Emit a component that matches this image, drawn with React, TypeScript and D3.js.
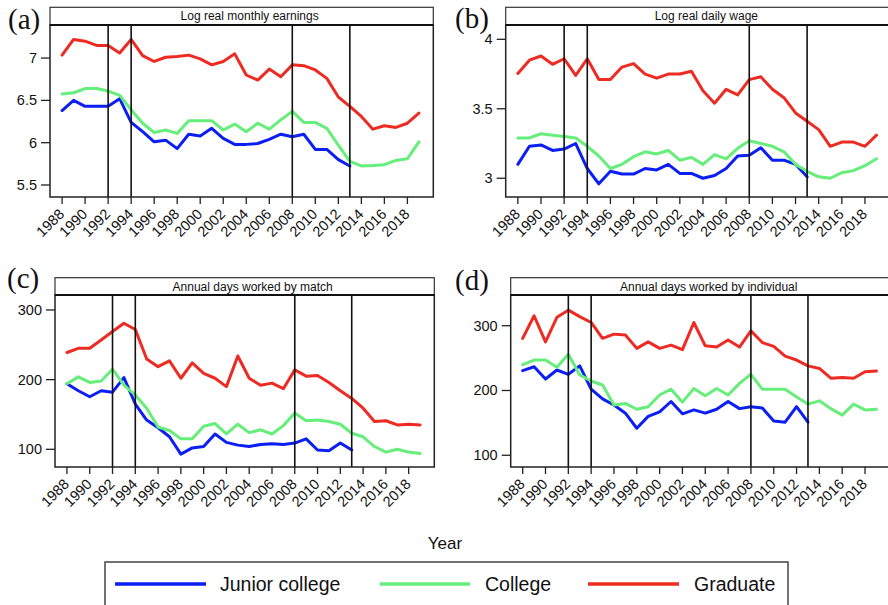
import React from 'react';
import * as d3 from 'd3';

// ---------- data ----------
const YEARS = [1988, 1989, 1990, 1991, 1992, 1993, 1994, 1995, 1996, 1997, 1998, 1999, 2000, 2001, 2002, 2003,
  2004, 2005, 2006, 2007, 2008, 2009, 2010, 2011, 2012, 2013, 2014, 2015, 2016, 2017, 2018, 2019];
const X_TICKS = [1988, 1990, 1992, 1994, 1996, 1998, 2000, 2002, 2004, 2006, 2008, 2010, 2012, 2014, 2016, 2018];
const REF_YEARS = [1992, 1994, 2008, 2013];
const SERIES_NAMES = ['Junior college', 'College', 'Graduate'];
const SERIES_COLORS = ['#0b1ef4', '#66ee7a', '#ee2b22'];

// (a) Log real monthly earnings
const A_JUNIOR = [6.38, 6.50, 6.43, 6.43, 6.43, 6.52, 6.24, 6.13, 6.01, 6.03, 5.93, 6.10, 6.08, 6.17, 6.05, 5.98,
  5.98, 5.99, 6.04, 6.10, 6.07, 6.10, 5.92, 5.92, 5.80, 5.725];
const A_COLLEGE = [6.575, 6.59, 6.64, 6.64, 6.61, 6.56, 6.39, 6.23, 6.12, 6.15, 6.11, 6.26, 6.26, 6.26, 6.15, 6.22,
  6.13, 6.23, 6.16, 6.27, 6.37, 6.24, 6.24, 6.17, 5.97, 5.78, 5.725, 5.73, 5.74, 5.79, 5.81, 6.01];
const A_GRAD = [7.035, 7.22, 7.20, 7.15, 7.15, 7.06, 7.22, 7.03, 6.96, 7.01, 7.02, 7.035, 6.99, 6.92, 6.96, 7.05,
  6.80, 6.74, 6.87, 6.78, 6.92, 6.91, 6.86, 6.76, 6.54, 6.43, 6.31, 6.16, 6.20, 6.18, 6.23, 6.35];

// (b) Log real daily wage
const B_JUNIOR = [3.10, 3.23, 3.24, 3.20, 3.21, 3.25, 3.07, 2.96, 3.05, 3.03, 3.03, 3.07, 3.06, 3.10, 3.035, 3.035,
  3.00, 3.02, 3.07, 3.16, 3.165, 3.22, 3.13, 3.13, 3.10, 3.01];
const B_COLLEGE = [3.29, 3.29, 3.32, 3.31, 3.30, 3.29, 3.23, 3.16, 3.07, 3.10, 3.155, 3.19, 3.175, 3.20, 3.13, 3.15,
  3.10, 3.17, 3.14, 3.215, 3.27, 3.25, 3.23, 3.19, 3.10, 3.05, 3.01, 3.00, 3.04, 3.055, 3.09, 3.14];
const B_GRAD = [3.754, 3.85, 3.88, 3.82, 3.86, 3.74, 3.86, 3.71, 3.71, 3.80, 3.825, 3.75, 3.72, 3.75, 3.75, 3.77,
  3.63, 3.54, 3.64, 3.60, 3.71, 3.73, 3.64, 3.58, 3.47, 3.41, 3.35, 3.23, 3.26, 3.26, 3.23, 3.31];

// (c) Annual days worked by match
const C_JUNIOR = [194, 184, 175.5, 184, 182, 203, 165, 142, 131, 118, 93, 102, 104, 122, 110, 106,
  104, 107, 108, 107, 109, 115, 99, 98, 109, 99];
const C_COLLEGE = [194, 204, 196, 198, 215, 192, 178, 159, 132, 127, 115, 115, 133, 137, 122, 136,
  124, 128, 122, 134, 152, 141, 142, 140, 136, 123, 118, 104, 96, 100, 96, 94];
const C_GRAD = [239, 245, 245, 257, 269, 281, 272, 229.6, 218.6, 227, 202, 224, 209, 202, 190, 234,
  202, 192, 195, 187, 214, 205, 206, 196, 184, 173, 159, 140, 141, 135, 136, 135];

// (d) Annual days worked by individual
const D_JUNIOR = [230.6, 236.7, 217.7, 231.6, 225, 238, 202, 187, 177.6, 165, 141.7, 160, 167, 183, 164, 170,
  165, 171, 183, 172, 175, 173, 153, 151, 175, 151];
const D_COLLEGE = [240, 247, 247, 236, 256, 224, 214.7, 208.5, 177.6, 180, 171, 175, 193, 202, 182, 203,
  192, 203, 193, 211, 225, 202, 202, 202, 190, 179, 184, 172, 162, 179, 170, 171];
const D_GRAD = [280.5, 315.4, 275, 313, 324, 314, 305, 280.5, 287, 285.6, 265, 275, 265, 270, 263, 305,
  269, 267, 278, 267, 292, 274, 268, 253, 247, 238, 234, 219, 220, 219, 229, 230];

const A_TICKS = [5.5, 6, 6.5, 7];
const B_TICKS = [3, 3.5, 4];
const C_TICKS = [100, 200, 300];
const D_TICKS = [100, 200, 300];

const PANEL_LABELS = ['(a)', '(b)', '(c)', '(d)'];
const PANEL_TITLES = ['Log real monthly earnings', 'Log real daily wage', 'Annual days worked by match',
  'Annual days worked by individual'];

// ---------- layout ----------
const W = 888;
const H = 605;
const SANS = '"Liberation Sans", Arial, Helvetica, sans-serif';
const SERIF = '"Liberation Serif", "Times New Roman", serif';
const X_DOMAIN: [number, number] = [1986.95, 2020.25];

const panels = [
  { series: [A_JUNIOR, A_COLLEGE, A_GRAD], ticks: A_TICKS, yDomain: [5.358, 7.391],
    left: 50, width: 383.3, headTop: 7.3, top: 25, bottom: 197, labelX: 8, labelY: 29 },
  { series: [B_JUNIOR, B_COLLEGE, B_GRAD], ticks: B_TICKS, yDomain: [2.865, 4.103],
    left: 505.7, width: 385.3, headTop: 7.3, top: 25, bottom: 197, labelX: 455, labelY: 28 },
  { series: [C_JUNIOR, C_COLLEGE, C_GRAD], ticks: C_TICKS, yDomain: [74.6, 321.5],
    left: 55, width: 379.3, headTop: 277.7, top: 295, bottom: 467, labelX: 7, labelY: 288 },
  { series: [D_JUNIOR, D_COLLEGE, D_GRAD], ticks: D_TICKS, yDomain: [81.9, 347.4],
    left: 510.7, width: 380, headTop: 277.7, top: 295, bottom: 467, labelX: 455, labelY: 290 },
];

function Panel({ p, idx }: { p: any; idx: number }) {
  const x = d3.scaleLinear().domain(X_DOMAIN).range([p.left, p.left + p.width]);
  const y = d3.scaleLinear().domain(p.yDomain).range([p.bottom, p.top]);
  const right = p.left + p.width;
  return (
    <g>
      <text x={p.labelX} y={p.labelY} fontFamily={SERIF} fontSize={29} fill="#111">{PANEL_LABELS[idx]}</text>
      {/* header strip */}
      <rect x={p.left} y={p.headTop} width={p.width} height={p.top - p.headTop} fill="#fff" stroke="#333" strokeWidth={1.2} />
      <text x={p.left + p.width / 2 + 8} y={(p.headTop + p.top) / 2 + 4.3} textAnchor="middle"
        fontFamily={SANS} fontSize={12} fill="#111">{PANEL_TITLES[idx]}</text>
      {/* series */}
      {p.series.map((vals: number[], si: number) => {
        const line = d3.line<number>().x((_, i) => x(YEARS[i])).y((v) => y(v));
        return <path key={si} d={line(vals) || ''} fill="none" stroke={SERIES_COLORS[si]} strokeWidth={3}
          strokeLinejoin="round" strokeLinecap="round" />;
      })}
      {/* reference lines */}
      {REF_YEARS.map((yr) => (
        <line key={yr} x1={x(yr)} x2={x(yr)} y1={p.top} y2={p.bottom} stroke="#111" strokeWidth={1.6} />
      ))}
      {/* frame */}
      <rect x={p.left} y={p.top} width={p.width} height={p.bottom - p.top} fill="none" stroke="#222" strokeWidth={1.5} />
      <line x1={p.left} x2={right} y1={p.top} y2={p.top} stroke="#111" strokeWidth={2} />
      {/* y axis */}
      {p.ticks.map((t: number) => (
        <g key={t}>
          <line x1={p.left - 9} x2={p.left} y1={y(t)} y2={y(t)} stroke="#222" strokeWidth={1.3} />
          <text x={p.left - 13} y={y(t) + 5} textAnchor="end" fontFamily={SANS} fontSize={14.5} fill="#111">{String(t)}</text>
        </g>
      ))}
      {/* x axis */}
      {X_TICKS.map((t) => (
        <g key={t}>
          <line x1={x(t)} x2={x(t)} y1={p.bottom} y2={p.bottom + 7} stroke="#222" strokeWidth={1.3} />
          <text transform={`translate(${x(t) + 3},${p.bottom + 18}) rotate(-45)`} textAnchor="end"
            fontFamily={SANS} fontSize={14.5} fill="#111">{String(t)}</text>
        </g>
      ))}
    </g>
  );
}

const LEGEND_LINES = [[115, 206], [380, 470], [588, 679]];
const LEGEND_TEXT_X = [220, 485, 694];

export default function App() {
  return (
    <svg width={W} height={H} style={{ position: 'absolute', left: 0, top: 0, background: '#fff' }}>
      <rect x={0} y={0} width={W} height={H} fill="#fff" />
      {panels.map((p, i) => <Panel key={i} p={p} idx={i} />)}
      <text x={445} y={549} textAnchor="middle" fontFamily={SANS} fontSize={17} fill="#111">Year</text>
      <rect x={105} y={562} width={683} height={60} fill="#fff" stroke="#444" strokeWidth={1.5} />
      {SERIES_NAMES.map((name, i) => (
        <g key={name}>
          <line x1={LEGEND_LINES[i][0]} x2={LEGEND_LINES[i][1]} y1={584} y2={584} stroke={SERIES_COLORS[i]} strokeWidth={3.5} />
          <text x={LEGEND_TEXT_X[i]} y={591} fontFamily={SANS} fontSize={19.5} fill="#111">{name}</text>
        </g>
      ))}
    </svg>
  );
}
